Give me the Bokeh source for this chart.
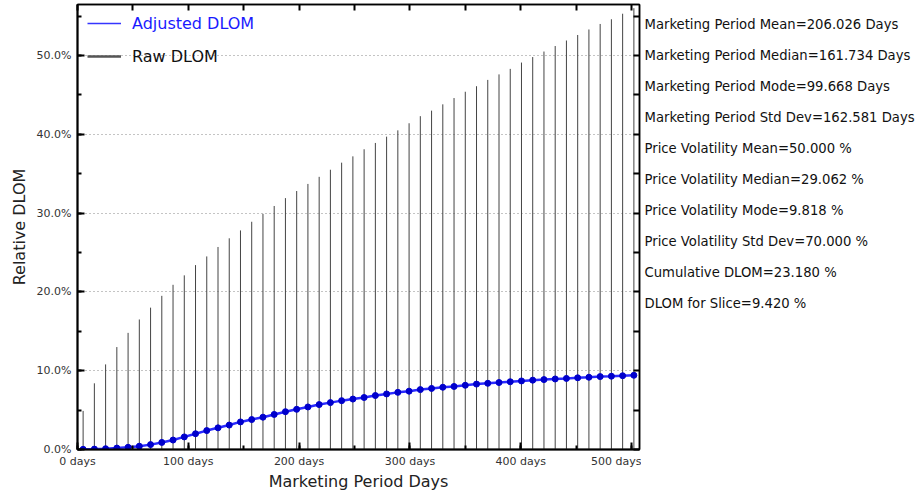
from bokeh.plotting import figure
from bokeh.layouts import row
from bokeh.models import (Range1d, SingleIntervalTicker, FixedTicker, NumeralTickFormatter,
                          PrintfTickFormatter, LinearAxis, Legend, LegendItem)
from bokeh.core.properties import value
from bokeh.embed import file_html
from bokeh.resources import INLINE

# ---- data ----
days = [5.07, 15.22, 25.36, 35.50, 45.65, 55.79, 65.94, 76.08, 86.22, 96.37,
        106.51, 116.66, 126.80, 136.94, 147.09, 157.23, 167.38, 177.52, 187.66, 197.81,
        207.95, 218.10, 228.24, 238.38, 248.53, 258.67, 268.82, 278.96, 289.10, 299.25,
        309.39, 319.54, 329.68, 339.82, 349.97, 360.11, 370.26, 380.40, 390.54, 400.69,
        410.83, 420.98, 431.12, 441.26, 451.41, 461.55, 471.70, 481.84, 491.98, 502.13]
raw_dlom = [0.049, 0.084, 0.108, 0.130, 0.148, 0.165, 0.180, 0.195, 0.209, 0.221,
            0.234, 0.245, 0.257, 0.268, 0.278, 0.289, 0.299, 0.309, 0.319, 0.328,
            0.337, 0.346, 0.355, 0.364, 0.372, 0.381, 0.389, 0.397, 0.405, 0.414,
            0.423, 0.430, 0.438, 0.446, 0.454, 0.461, 0.469, 0.476, 0.483, 0.491,
            0.498, 0.505, 0.512, 0.519, 0.526, 0.533, 0.540, 0.546, 0.553, 0.560]
adj_dlom = [0.0002, 0.0005, 0.0010, 0.0018, 0.0028, 0.0042, 0.0062, 0.0090, 0.0120, 0.0160,
            0.0200, 0.0240, 0.0275, 0.0310, 0.0350, 0.0380, 0.0410, 0.0445, 0.0480, 0.0510,
            0.0540, 0.0570, 0.0595, 0.0620, 0.0640, 0.0660, 0.0685, 0.0705, 0.0725, 0.0740,
            0.0760, 0.0775, 0.0790, 0.0800, 0.0815, 0.0830, 0.0840, 0.0850, 0.0860, 0.0870,
            0.0880, 0.0887, 0.0895, 0.0902, 0.0910, 0.0917, 0.0925, 0.0930, 0.0936, 0.0942]
x_tick_marks = [0, 50, 100, 150, 200, 250, 300, 350, 400, 450, 500]
y_tick_marks = [0.0, 0.05, 0.10, 0.15, 0.20, 0.25, 0.30, 0.35, 0.40, 0.45, 0.50, 0.55]
stats_text = ["Marketing Period Mean=206.026 Days",
              "Marketing Period Median=161.734 Days",
              "Marketing Period Mode=99.668 Days",
              "Marketing Period Std Dev=162.581 Days",
              "Price Volatility Mean=50.000 %",
              "Price Volatility Median=29.062 %",
              "Price Volatility Mode=9.818 %",
              "Price Volatility Std Dev=70.000 %",
              "Cumulative DLOM=23.180 %",
              "DLOM for Slice=9.420 %"]

FONT = "DejaVu Sans"
W_MAIN = 641
FRAME_TOP, FRAME_BOTTOM = 4, 449

p = figure(width=W_MAIN, height=493, output_backend="svg", toolbar_location=None,
           x_range=Range1d(0, 507.2), y_range=Range1d(0, 0.5647),
           min_border_left=77, min_border_right=2, min_border_top=FRAME_TOP,
           min_border_bottom=493 - FRAME_BOTTOM)

xt = SingleIntervalTicker(interval=100, num_minor_ticks=2)
yt = SingleIntervalTicker(interval=0.1, num_minor_ticks=2)

def style_axis(ax, width):
    ax.major_tick_in = 7
    ax.major_tick_out = 0
    ax.minor_tick_in = 4
    ax.minor_tick_out = 0
    ax.major_tick_line_width = 2
    ax.minor_tick_line_width = 2
    ax.major_tick_line_color = "black"
    ax.minor_tick_line_color = "black"
    ax.axis_line_color = "black"
    ax.axis_line_width = width

xa = p.xaxis[0]
xa.ticker = xt
xa.formatter = PrintfTickFormatter(format="%d days")
style_axis(xa, 2)
xa.major_label_text_font = FONT
xa.major_label_text_font_size = "11px"
xa.major_label_text_color = "#333333"
xa.major_label_standoff = 5
xa.axis_label = "Marketing Period Days"
xa.axis_label_text_font = FONT
xa.axis_label_text_font_size = "16px"
xa.axis_label_text_font_style = "normal"
xa.axis_label_text_color = "#222222"
xa.axis_label_standoff = 1

ya = p.yaxis[0]
ya.ticker = yt
ya.formatter = NumeralTickFormatter(format="0.0%")
style_axis(ya, 2)
ya.major_label_text_font = FONT
ya.major_label_text_font_size = "11px"
ya.major_label_text_color = "#333333"
ya.major_label_standoff = 6
ya.axis_label = "Relative DLOM"
ya.axis_label_text_font = FONT
ya.axis_label_text_font_size = "16px"
ya.axis_label_text_font_style = "normal"
ya.axis_label_text_color = "#222222"
ya.axis_label_standoff = 5

# mirrored tick marks on top and right (minor-only tickers => no labels)
top = LinearAxis(ticker=FixedTicker(ticks=[], minor_ticks=x_tick_marks), major_label_standoff=0)
style_axis(top, 1.5)
top.minor_tick_in = 6
p.add_layout(top, "above")
right = LinearAxis(ticker=FixedTicker(ticks=[], minor_ticks=y_tick_marks), major_label_standoff=0)
style_axis(right, 1.5)
right.minor_tick_in = 6
p.add_layout(right, "right")

p.xgrid.visible = False
p.ygrid.ticker = yt
p.ygrid.grid_line_color = "#888888"
p.ygrid.grid_line_dash = "1 3"
p.ygrid.grid_line_width = 1

p.outline_line_color = "black"
p.outline_line_width = 1.5
p.background_fill_color = "white"
p.border_fill_color = "white"

# raw DLOM bars
p.segment(x0=days, y0=[0] * len(days), x1=days, y1=raw_dlom, line_color="#444444", line_width=1)

# adjusted DLOM
p.line(days, adj_dlom, line_color="#2a2aff", line_width=2.5)
p.scatter(days, adj_dlom, size=6, color="#0000cc")

# legend proxies (not drawn in the plot)
nan = float("nan")
adj_proxy = p.line(x=[nan], y=[nan], line_color="#3535ff", line_width=1.5)
raw_proxy = p.line(x=[nan], y=[nan], line_color="#555555", line_width=2.5)

common = dict(border_line_alpha=0, background_fill_alpha=0, padding=0, margin=0, spacing=0,
              glyph_width=34, glyph_height=20, label_height=20, label_standoff=11,
              label_text_font=FONT, label_text_font_size="16px")
leg1 = Legend(items=[LegendItem(label="Adjusted DLOM", renderers=[adj_proxy])],
              location=(10, 416), label_text_color="#1a1aff", **common)
leg2 = Legend(items=[LegendItem(label="Raw DLOM", renderers=[raw_proxy])],
              location=(10, 383), label_text_color="#111111", **common)
p.add_layout(leg1)
p.add_layout(leg2)

# statistics text panel on the right (its frame lines up with the main frame)
W_SIDE = 922 - W_MAIN
p2 = figure(width=W_SIDE, height=493, output_backend="svg", toolbar_location=None,
            x_range=Range1d(0, W_SIDE), y_range=Range1d(FRAME_BOTTOM, FRAME_TOP),
            x_axis_location=None, y_axis_location=None, min_border=0,
            min_border_top=FRAME_TOP, min_border_bottom=493 - FRAME_BOTTOM)
p2.grid.visible = False
p2.outline_line_color = None
p2.background_fill_color = "white"
p2.border_fill_color = "white"
p2.text(x=[3] * len(stats_text), y=[24 + 31 * i for i in range(len(stats_text))], text=stats_text,
        text_font=value(FONT), text_font_size=value("13.2px"), text_color="#111111",
        text_baseline="middle", text_align="left")

layout = row(p, p2, spacing=0)
open("out.html", "w").write(file_html(layout, INLINE))
